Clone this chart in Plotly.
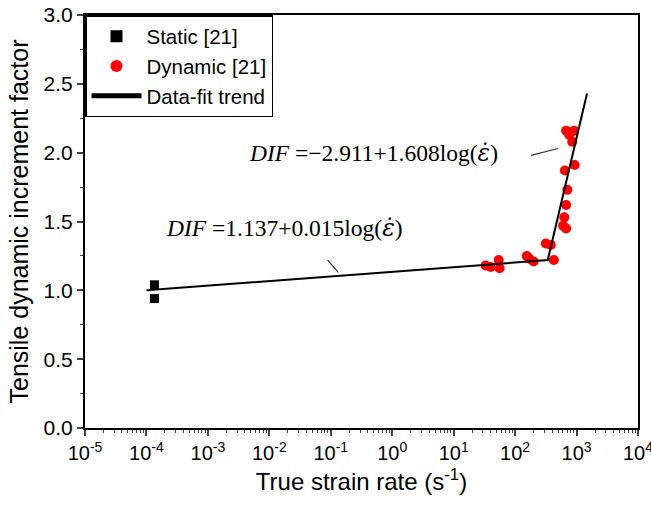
import plotly.graph_objects as go

# Data
static_rate = [1.35e-4, 1.35e-4]
static_dif = [1.04, 0.94]

dyn_rate = [33, 40, 54, 56, 155, 170, 200, 316, 380, 427, 603, 676, 631, 676, 708, 646, 933, 676, 759, 912, 851]
dyn_dif = [1.18, 1.17, 1.22, 1.16, 1.25, 1.23, 1.21, 1.34, 1.33, 1.22, 1.47, 1.45, 1.53, 1.62, 1.73, 1.87, 1.91, 2.16, 2.13, 2.16, 2.08]

fit_rate = [1e-4, 340, 1480]
fit_dif = [1.0, 1.22, 2.43]

lead1_rate = [180, 500]
lead1_dif = [1.98, 2.03]
lead2_rate = [0.089, 0.132]
lead2_dif = [1.22, 1.13]

xtick_vals = [1e-5, 1e-4, 1e-3, 1e-2, 1e-1, 1e0, 1e1, 1e2, 1e3, 1e4]
xtick_text = ["10<sup>-5</sup>", "10<sup>-4</sup>", "10<sup>-3</sup>", "10<sup>-2</sup>", "10<sup>-1</sup>",
              "10<sup>0</sup>", "10<sup>1</sup>", "10<sup>2</sup>", "10<sup>3</sup>", "10<sup>4</sup>"]
ytick_vals = [0.0, 0.5, 1.0, 1.5, 2.0, 2.5, 3.0]
ytick_text = ["0.0", "0.5", "1.0", "1.5", "2.0", "2.5", "3.0"]

eps = '<span style="font-family:DejaVu Serif"><i>ε̇</i></span>'

fig = go.Figure()
fig.add_trace(go.Scatter(x=static_rate, y=static_dif, mode="markers", name="Static [21]",
                         marker=dict(symbol="square", size=9, color="black")))
fig.add_trace(go.Scatter(x=dyn_rate, y=dyn_dif, mode="markers", name="Dynamic [21]",
                         marker=dict(symbol="circle", size=10, color="#ff0000")))
fig.add_trace(go.Scatter(x=fit_rate, y=fit_dif, mode="lines", name="Data-fit trend",
                         line=dict(color="black", width=2)))
fig.add_trace(go.Scatter(x=lead1_rate, y=lead1_dif, mode="lines", showlegend=False,
                         line=dict(color="#333", width=1.2), hoverinfo="skip"))
fig.add_trace(go.Scatter(x=lead2_rate, y=lead2_dif, mode="lines", showlegend=False,
                         line=dict(color="#333", width=1.2), hoverinfo="skip"))

fig.add_annotation(xref="paper", yref="paper", x=0.293, y=0.666, xanchor="left", yanchor="middle",
                   text="<i>DIF</i> =−2.911+1.608log(" + eps + ")", showarrow=False,
                   font=dict(family="Liberation Serif", size=23.5, color="black"))
fig.add_annotation(xref="paper", yref="paper", x=0.142, y=0.484, xanchor="left", yanchor="middle",
                   text="<i>DIF</i> =1.137+0.015log(" + eps + ")", showarrow=False,
                   font=dict(family="Liberation Serif", size=23.5, color="black"))

fig.update_layout(
    width=651, height=508,
    margin=dict(l=85, r=13, t=15, b=80),
    paper_bgcolor="white", plot_bgcolor="white",
    font=dict(family="Liberation Sans", size=21, color="black"),
    showlegend=True,
    legend=dict(x=0, y=1, xanchor="left", yanchor="top", bgcolor="white",
                bordercolor="black", borderwidth=1.5, font=dict(size=20.5),
                tracegroupgap=0, itemsizing="constant", itemwidth=50),
    xaxis=dict(type="log", range=[-5, 4], tickvals=xtick_vals, ticktext=xtick_text,
               ticks="outside", ticklen=6, tickwidth=1.5, showgrid=False, zeroline=False,
               showline=True, linecolor="black", linewidth=2, mirror=True, automargin=False,
               tickfont=dict(size=20), ticklabeloverflow="allow",
               minor=dict(ticks="outside", ticklen=3, tickwidth=1, dtick="D1", showgrid=False),
               title=dict(text="True strain rate (s<sup>-1</sup>)", font=dict(size=24), standoff=10)),
    yaxis=dict(range=[0, 3], tickvals=ytick_vals, ticktext=ytick_text,
               ticks="outside", ticklen=6, tickwidth=1.5, showgrid=False, zeroline=False,
               showline=True, linecolor="black", linewidth=2, mirror=True, automargin=False,
               tickfont=dict(size=21),
               minor=dict(ticks="outside", ticklen=3, tickwidth=1, dtick=0.25, showgrid=False),
               title=dict(text="Tensile dynamic increment factor", font=dict(size=25), standoff=8)),
)

fig.write_html("out.html")
